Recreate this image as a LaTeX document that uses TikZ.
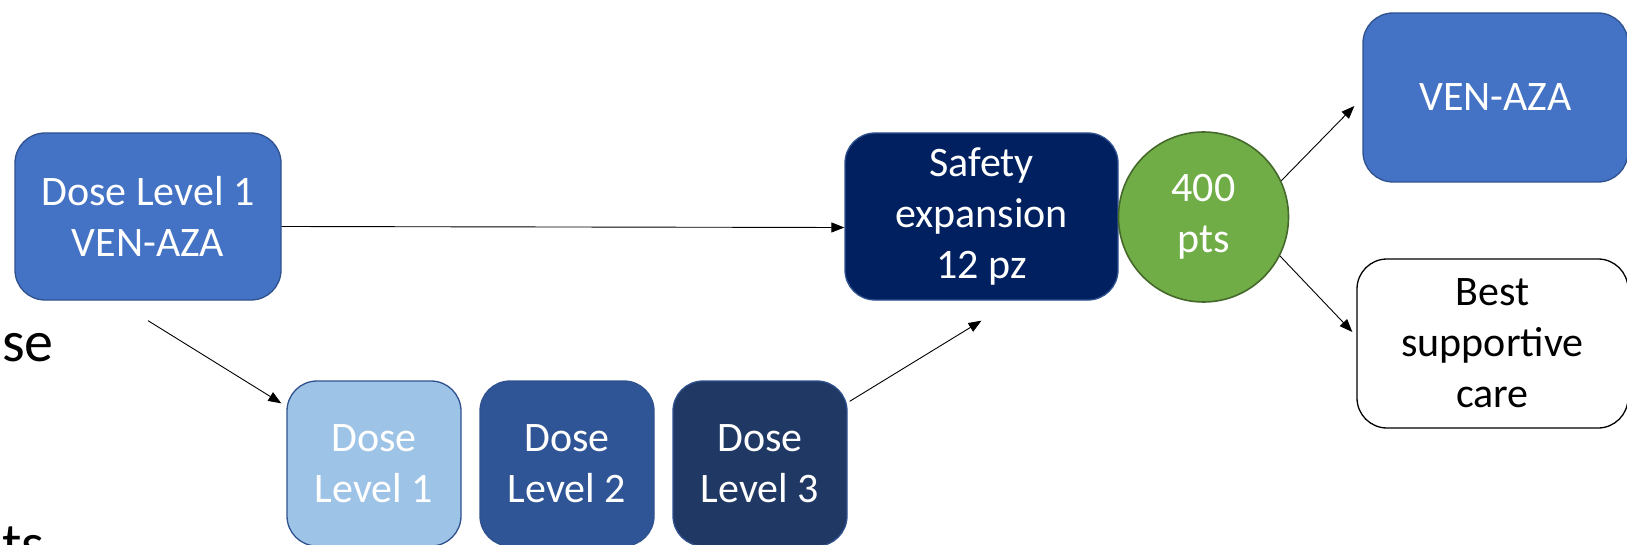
\documentclass[tikz,border=0pt]{standalone}
\usepackage{fontspec}
\setmainfont{Carlito}
\usetikzlibrary{arrows.meta}
\definecolor{offblue}{HTML}{4472C4}
\definecolor{offborder}{HTML}{2F528F}
\definecolor{lightblue}{HTML}{9DC3E6}
\definecolor{midblue}{HTML}{2F5597}
\definecolor{darkblue}{HTML}{203864}
\definecolor{navy}{HTML}{002060}
\definecolor{offgreen}{HTML}{70AD47}
\definecolor{greenborder}{HTML}{44692B}
\tikzset{
  box/.style={rectangle, rounded corners=30pt, draw=offborder, line width=1.3pt,
    inner sep=0pt, align=center, text=white,
    font=\fontsize{42}{51}\selectfont},
  conn/.style={line width=0.9pt, -{Triangle[length=13pt,width=10pt]}},
  bigtxt/.style={inner sep=0pt, font=\fontsize{58}{70}\selectfont, anchor=base west}
}
\begin{document}
\begin{tikzpicture}[x=1pt,y=-1pt]
\useasboundingbox (0,0) rectangle (1627,545);
% left nodes
\node[box, fill=offblue, minimum width=266pt, minimum height=167pt] (A) at (148,216.5) {Dose Level 1\\VEN-AZA};
\node[box, fill=lightblue, minimum width=174pt, minimum height=165pt] (D1) at (374,463.5) {Dose\\Level 1};
\node[box, fill=midblue, minimum width=174pt, minimum height=165pt] (D2) at (567,463.5) {Dose\\Level 2};
\node[box, fill=darkblue, minimum width=174pt, minimum height=165pt] (D3) at (760,463.5) {Dose\\Level 3};
\node[box, fill=navy, minimum width=273pt, minimum height=167pt] (S) at (981.5,216.5) {Safety\\expansion\\12 pz};
\node[circle, fill=offgreen, draw=greenborder, line width=1.6pt, minimum size=170pt, inner sep=0pt,
  align=center, text=white, font=\fontsize{42}{51}\selectfont] (C) at (1203.5,217) {400\\pts};
\node[box, fill=offblue, minimum width=265pt, minimum height=169pt] (V) at (1495.5,97.5) {VEN-AZA};
\node[box, fill=white, draw=black, text=black, minimum width=271pt, minimum height=169pt] (B) at (1492.5,343.5) {Best\\supportive\\care};
% cut-off text at left edge
\node[bigtxt] (t1) at (2,361) {se};
\node[bigtxt] (t2) at (2,563) {ts};
% connectors
\draw[conn] ([yshift=-10pt]A.east) -- ([yshift=-11pt]S.west);
\draw[conn] ([yshift=-20pt]A.south) -- ([xshift=-5pt,yshift=-23pt]D1.north west);
\draw[conn] ([xshift=2pt,yshift=-21pt]D3.north east) -- ([yshift=-20pt]S.south);
\draw[conn] (C.25) -- ([xshift=-8pt,yshift=-8.5pt]V.west);
\draw[conn] (C.-27) -- ([xshift=-4pt,yshift=11.5pt]B.west);
\end{tikzpicture}
\end{document}
